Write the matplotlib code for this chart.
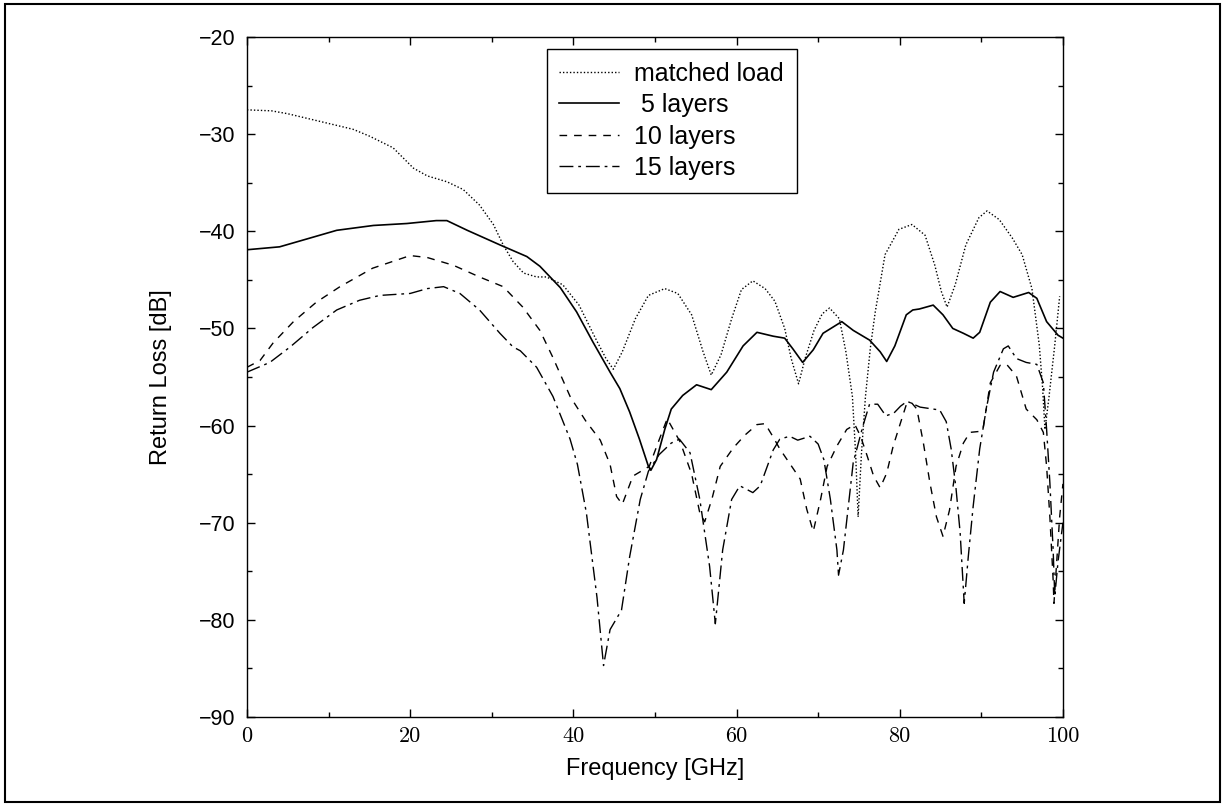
import matplotlib
matplotlib.use("Agg")
import matplotlib.pyplot as plt
from matplotlib.patches import Rectangle
from matplotlib.ticker import MultipleLocator

# matched load (dotted)
f_match = [0, 3, 5, 8, 10, 13, 15, 17.9, 20.4, 22.1, 24.5, 26.5, 28.5, 30.2, 31.4,
           32.6, 33.9, 35.5, 36.7, 38.7, 40.7, 42.7, 44, 44.9, 46, 47.6, 49.2, 51.2,
           52.8, 54.5, 55.9, 56.9, 58.1, 59.4, 60.6, 62, 63.5, 64.7, 65.9, 66.7, 67.6,
           68.4, 69.5, 70.5, 71.4, 72.6, 73.4, 74.2, 74.6, 74.9, 75.3, 75.8, 76.4, 77,
           78.2, 79.9, 81.5, 83.1, 84.3, 85.1, 85.8, 86.8, 88.1, 89.7, 90.7, 92.2, 93.8,
           95, 96.2, 97.1, 97.5, 97.8, 98.3, 99, 99.6]
rl_match = [-27.5, -27.6, -27.9, -28.5, -28.9, -29.5, -30.2, -31.4, -33.5, -34.3, -34.9,
            -35.7, -37.3, -39.3, -41.4, -43.1, -44.3, -44.7, -44.7, -45.5, -47.6, -51,
            -53.1, -54.2, -52.4, -49, -46.6, -45.9, -46.4, -48.6, -52.4, -54.8, -52.7,
            -49, -46, -45.1, -45.9, -47.2, -50, -53.1, -55.7, -53.1, -50.2, -48.5, -47.9,
            -49, -52.4, -57, -63, -69.4, -63, -57, -52, -48.3, -42.4, -39.8, -39.3, -40.4,
            -43.5, -46.2, -47.8, -45.5, -41.4, -38.6, -37.9, -38.8, -40.7, -42.4, -45.9,
            -51.7, -56, -60.4, -57, -51.7, -46.7]

# 5 layers (solid)
f_5 = [0, 4, 7.3, 11, 15.5, 19.6, 23.2, 24.5, 27, 31, 34.3, 35.9, 38.4, 40.4, 42.4,
       44.5, 45.7, 46.9, 48.1, 49.2, 49.5, 50.2, 51.2, 52, 53.4, 55.1, 56.9, 58.8, 60.8,
       62.5, 64.5, 65.9, 66.9, 68.1, 69.4, 70.6, 72.9, 74.3, 76.3, 77.6, 78.4, 79.4,
       80.8, 81.6, 82.4, 84.1, 85.3, 86.5, 87.8, 89, 89.8, 91.1, 92.3, 93.9, 95.8, 96.8,
       98, 99.4, 100]
rl_5 = [-41.9, -41.6, -40.8, -39.9, -39.4, -39.2, -38.9, -38.9, -39.9, -41.4, -42.6,
        -43.6, -45.8, -48.3, -51.4, -54.5, -56.2, -58.6, -61.4, -64.2, -64.6, -63.5,
        -60.4, -58.3, -56.9, -55.8, -56.3, -54.5, -51.8, -50.4, -50.8, -51, -52.1, -53.5,
        -52.2, -50.5, -49.3, -50.2, -51.2, -52.4, -53.4, -51.8, -48.6, -48.1, -48, -47.6,
        -48.6, -50, -50.5, -51, -50.4, -47.3, -46.2, -46.8, -46.3, -46.9, -49.3, -50.7,
        -51]

# 10 layers (dashed)
f_10 = [0, 1.6, 3.2, 5.7, 8.5, 11.4, 15.4, 20, 22.1, 25.3, 28.5, 31.4, 33.8, 35.9, 37.5,
        39.6, 41.5, 43.3, 44.5, 45.3, 46, 47.3, 49.3, 50.5, 51.5, 53.1, 54.5, 55.5, 56.1,
        57, 58, 59.6, 61, 62.5, 63.5, 64.5, 65.3, 67, 67.8, 68.6, 69.4, 70.3, 71.1, 72.3,
        73.5, 74.5, 75.2, 76, 76.8, 77.6, 78.4, 79.2, 80.1, 80.9, 81.5, 82.1, 82.9, 83.7,
        84.5, 85.3, 86.1, 86.9, 87.8, 88.6, 89.8, 90.2, 91.1, 92.3, 93.1, 94.3, 95.5,
        96.8, 97.6, 98, 98.4, 98.8, 98.9, 99.2, 99.6, 100]
rl_10 = [-54.0, -53.3, -51.5, -49.3, -47.3, -45.7, -43.8, -42.5, -42.7, -43.5, -44.7,
         -45.7, -47.8, -50.2, -53, -57, -59.5, -61.5, -64, -67.3, -68.1, -65.2, -64.2,
         -61.5, -59.3, -61.7, -65, -69, -69.9, -67.5, -64.2, -62.3, -61, -59.9, -59.8,
         -61.2, -62.4, -64.5, -65.5, -68.6, -70.9, -67.6, -64.2, -62.1, -60.4, -59.9,
         -61.1, -63.1, -65.2, -66.4, -64.9, -62.1, -59.7, -57.6, -57.7, -58.3, -61.8,
         -65.9, -69.4, -71.4, -68.7, -64.2, -61.8, -60.7, -60.6, -60.4, -55.6, -53.8,
         -53.7, -54.9, -58.3, -59.4, -60.7, -64.2, -69.4, -75.9, -78.3, -74.5, -69.4, -66]

# 15 layers (dash-dot)
f_15 = [0, 2.8, 5.3, 8.1, 11, 13.8, 16.3, 20, 22.1, 24.1, 26.1, 28.5, 31, 32.6, 33.5,
        35.5, 37.5, 39.6, 40.5, 41.6, 42.9, 43.7, 44.5, 45.9, 46.9, 48.2, 49.2, 50.5, 52,
        53, 54.3, 55.5, 56.7, 57.4, 58.3, 59.4, 60.4, 62, 62.9, 64.5, 65.3, 66.5, 67.5,
        69, 70, 70.7, 71.5, 72.3, 72.5, 73.1, 73.7, 74.3, 75.5, 76.3, 77.3, 78.3, 79.3,
        80.1, 80.9, 82.5, 84.9, 85.7, 86.3, 86.9, 87.4, 87.9, 88.4, 89, 89.8, 90.6, 91.5,
        92.7, 93.3, 94.3, 95.5, 96.8, 97.6, 98, 98.4, 98.8, 99, 99.4, 100]
rl_15 = [-54.5, -53.5, -51.9, -49.9, -48.1, -47.1, -46.6, -46.4, -45.9, -45.7, -46.4,
         -48.1, -50.5, -51.9, -52.3, -54, -57, -61.4, -64, -69, -77.7, -84.7, -81, -79,
         -73.5, -67.6, -64.7, -63, -61.8, -61.4, -62.8, -67.6, -74.5, -80.4, -72.8, -67.6,
         -66.2, -66.9, -66.2, -62.5, -61.4, -61.1, -61.5, -61.1, -61.9, -63.5, -67.6,
         -72.8, -75.4, -72.8, -68.3, -63.8, -60, -57.8, -57.8, -59, -58.7, -58, -57.5,
         -58.1, -58.4, -59.6, -62.4, -66.5, -71, -78.3, -73.5, -68.3, -62.4, -58.3, -54.5,
         -52.1, -51.8, -53.1, -53.5, -53.7, -55.6, -60.4, -65.9, -72.8, -77.6, -74, -70]

fig = plt.figure(figsize=(12.25, 8.06), dpi=100)
ax = fig.add_axes([0.2016, 0.1104, 0.6661, 0.8437])

ax.plot(f_match, rl_match, color="black", lw=1.0, linestyle=(0, (1, 1.5)), label="matched load")
ax.plot(f_5, rl_5, color="black", lw=1.2, linestyle="-", label=" 5 layers")
ax.plot(f_10, rl_10, color="black", lw=1.0, linestyle=(0, (5.5, 5)), label="10 layers")
ax.plot(f_15, rl_15, color="black", lw=1.0, linestyle=(0, (10, 3.5, 2, 3.5)), label="15 layers")

ax.set_xlim(0, 100)
ax.set_ylim(-90, -20)
ax.xaxis.set_major_locator(MultipleLocator(20))
ax.xaxis.set_minor_locator(MultipleLocator(10))
ax.yaxis.set_major_locator(MultipleLocator(10))
ax.yaxis.set_minor_locator(MultipleLocator(5))
ax.tick_params(which="both", direction="in", top=True, right=True, width=1)
ax.tick_params(which="major", length=6)
ax.tick_params(which="minor", length=3.5)
ax.tick_params(axis="y", pad=8)
ax.tick_params(axis="x", pad=7)
for s in ax.spines.values():
    s.set_linewidth(1.0)

for lab in ax.get_xticklabels():
    lab.set_fontfamily("cmr10")
    lab.set_fontsize(16)
for lab in ax.get_yticklabels():
    lab.set_fontfamily("Liberation Sans")
    lab.set_fontsize(15.5)

ax.set_xlabel("Frequency [GHz]", fontfamily="Liberation Sans", fontsize=17)
ax.set_ylabel("Return Loss [dB]", fontfamily="Liberation Sans", fontsize=17)
ax.xaxis.set_label_coords(0.5, -0.06)
ax.yaxis.set_label_coords(-0.092, 0.5)

leg = ax.legend(loc="upper left", bbox_to_anchor=(0.3676, 0.982), fancybox=False,
                edgecolor="black", framealpha=1, handlelength=2.4, handletextpad=0.6,
                labelspacing=0.3, borderpad=0.5, borderaxespad=0,
                prop={"family": "Liberation Sans", "size": 18})
leg.get_frame().set_linewidth(1.0)

fig.add_artist(Rectangle((0.004, 0.005), 0.992, 0.99, transform=fig.transFigure,
                         fill=False, lw=1.5, edgecolor="black"))

fig.savefig("out.png", dpi=100)
